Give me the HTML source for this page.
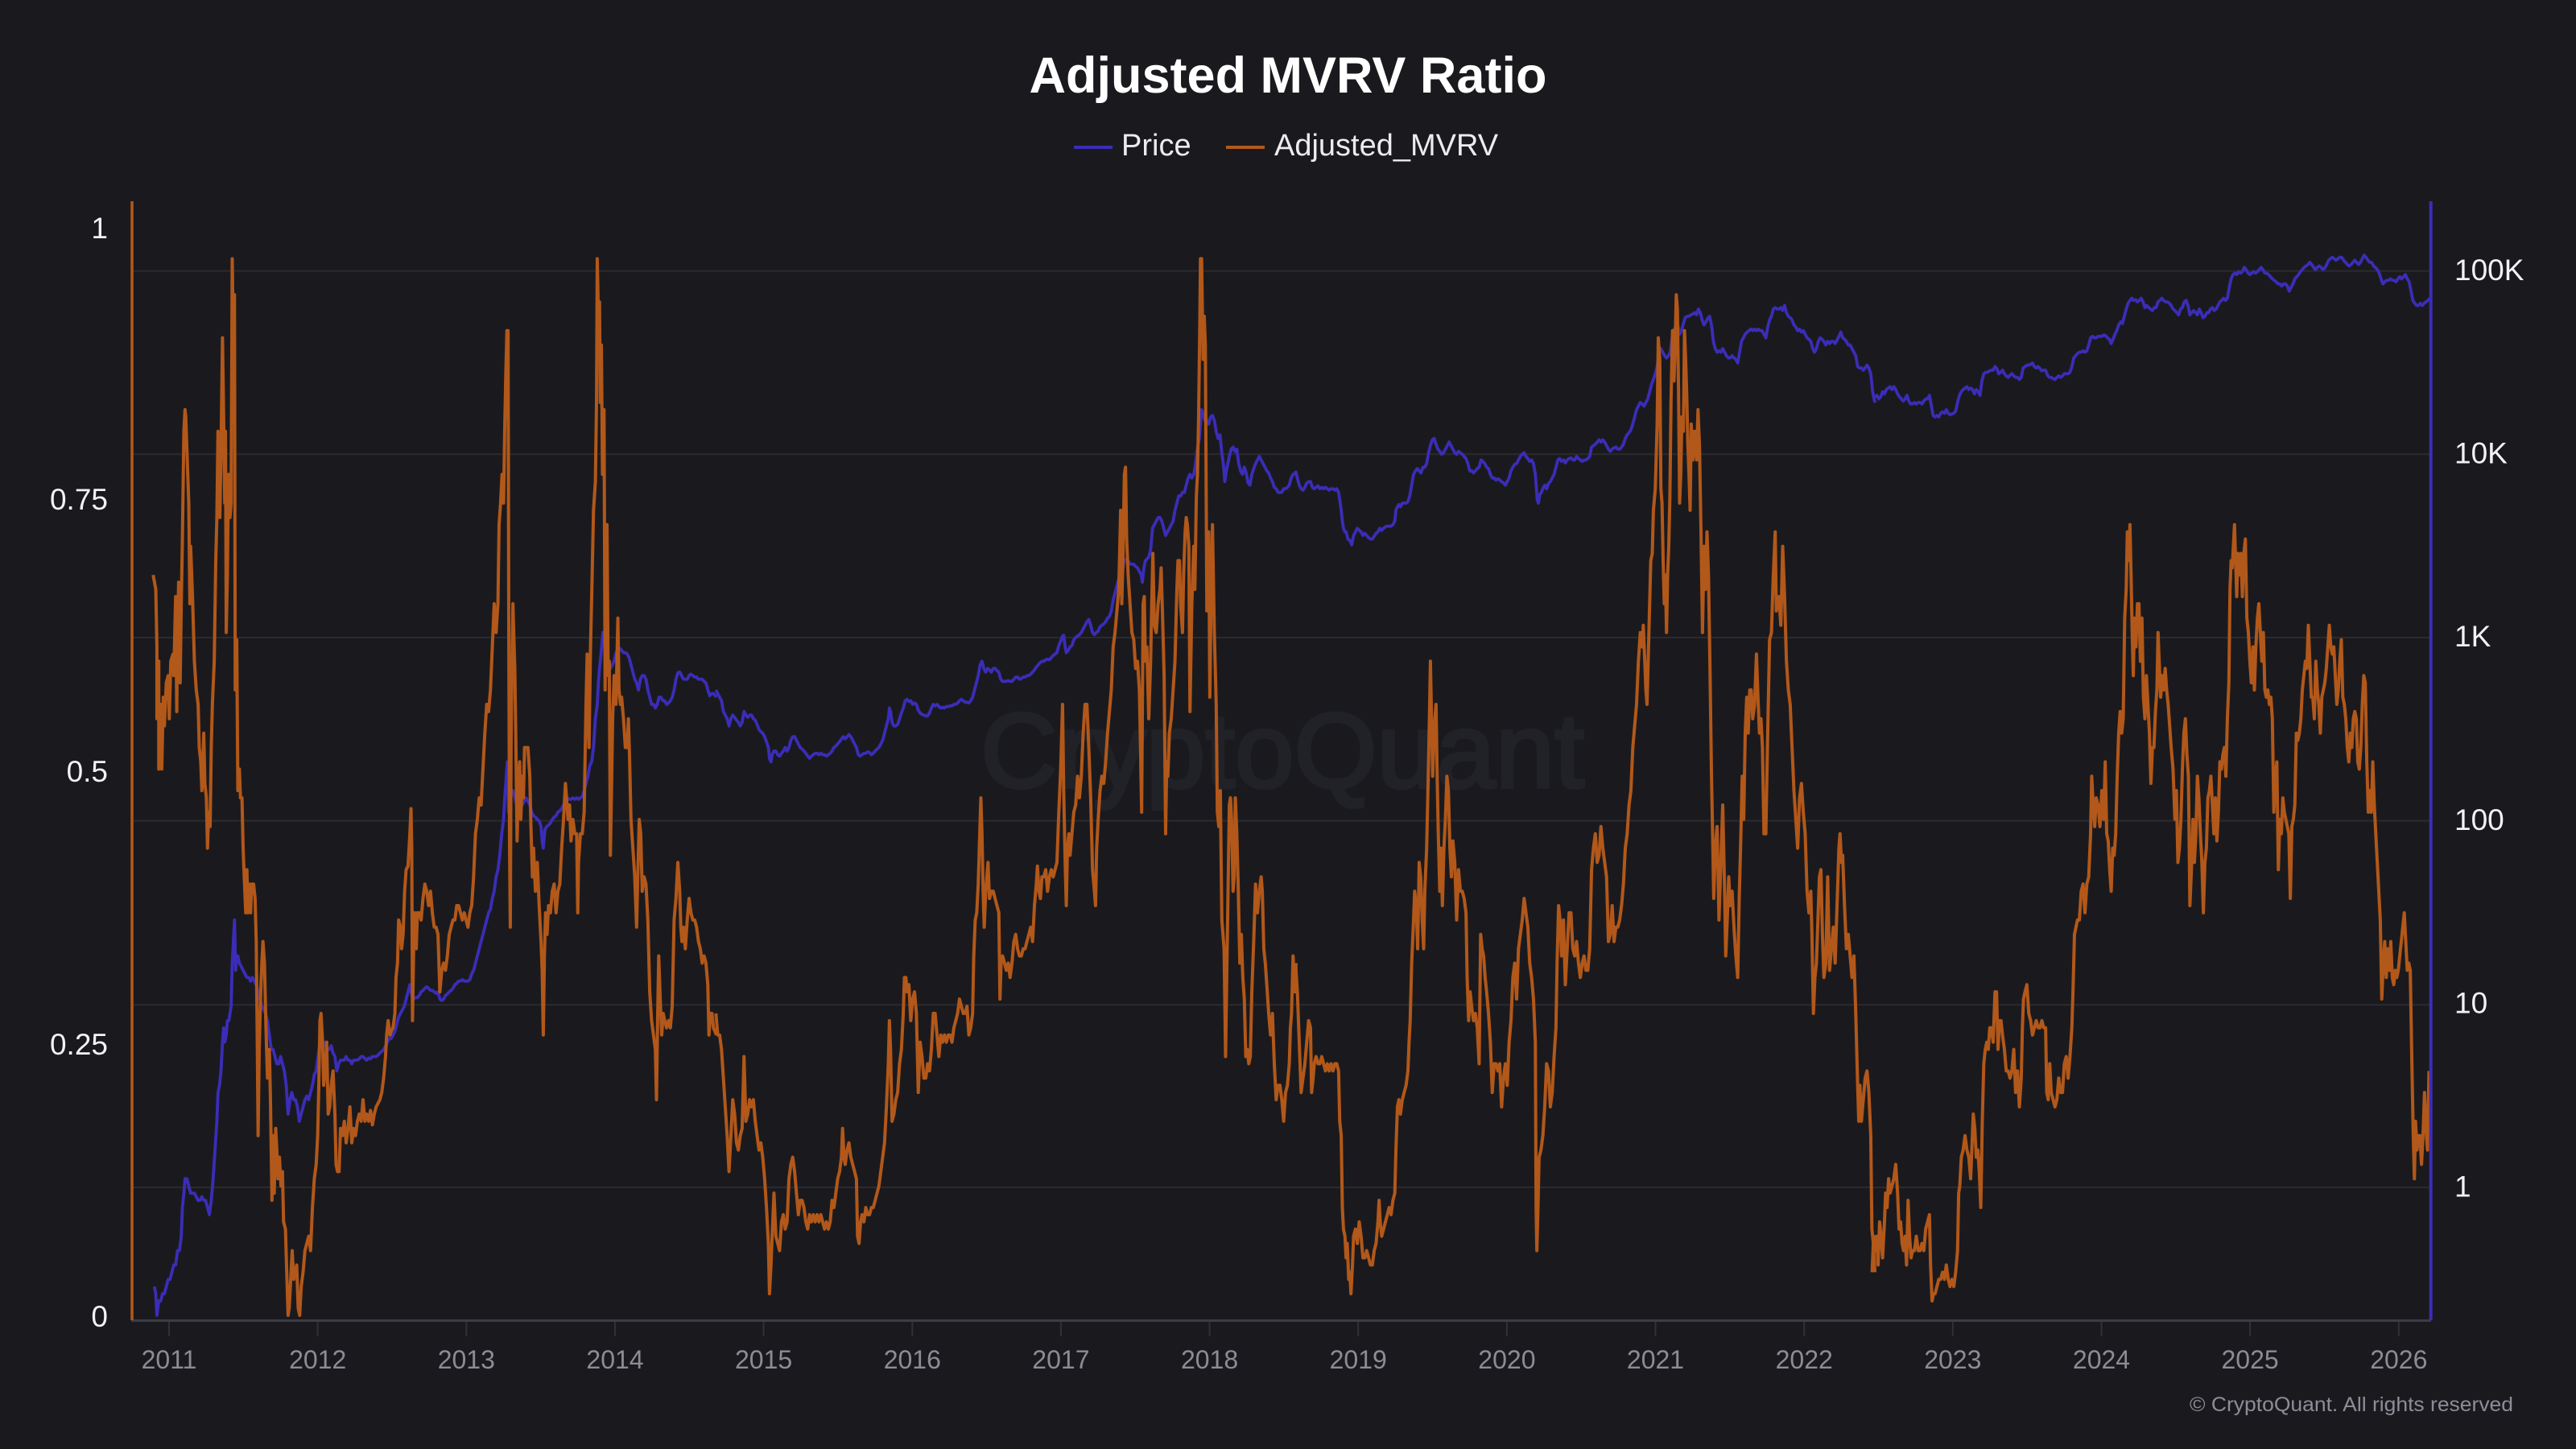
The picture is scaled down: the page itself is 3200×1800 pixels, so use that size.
<!DOCTYPE html>
<html><head><meta charset="utf-8"><style>
html,body{margin:0;padding:0;background:#1a1a1e;}
svg{display:block;}
text{font-family:"Liberation Sans",sans-serif;}
</style></head><body>
<svg width="3200" height="1800" viewBox="0 0 3200 1800" xmlns="http://www.w3.org/2000/svg">
<rect x="0" y="0" width="3200" height="1800" fill="#1a1a1e"/>
<text x="1600" y="115" font-size="63" font-weight="bold" fill="#ffffff" text-anchor="middle">Adjusted MVRV Ratio</text>
<line x1="1334" y1="183" x2="1382" y2="183" stroke="#3b2db8" stroke-width="4"/>
<text x="1393" y="193" font-size="38" fill="#ececf0">Price</text>
<line x1="1523" y1="183" x2="1571" y2="183" stroke="#b2581a" stroke-width="4"/>
<text x="1583" y="193" font-size="38" fill="#ececf0">Adjusted_MVRV</text>
<text x="1218" y="978" font-size="132" fill="#212228" stroke="#212228" stroke-width="4" textLength="750" lengthAdjust="spacingAndGlyphs">CryptoQuant</text>
<g stroke="#2a2a30" stroke-width="2">
<line x1="165" y1="336.6" x2="3018" y2="336.6"/>
<line x1="165" y1="564.3" x2="3018" y2="564.3"/>
<line x1="165" y1="792" x2="3018" y2="792"/>
<line x1="165" y1="1019.6" x2="3018" y2="1019.6"/>
<line x1="165" y1="1248.2" x2="3018" y2="1248.2"/>
<line x1="165" y1="1475" x2="3018" y2="1475"/>
</g>
<g stroke="#303036" stroke-width="2">
<line x1="210" y1="1642" x2="210" y2="1660"/><line x1="394.7" y1="1642" x2="394.7" y2="1660"/><line x1="579.3" y1="1642" x2="579.3" y2="1660"/><line x1="764" y1="1642" x2="764" y2="1660"/><line x1="948.6" y1="1642" x2="948.6" y2="1660"/><line x1="1133.3" y1="1642" x2="1133.3" y2="1660"/><line x1="1317.9" y1="1642" x2="1317.9" y2="1660"/><line x1="1502.6" y1="1642" x2="1502.6" y2="1660"/><line x1="1687.2" y1="1642" x2="1687.2" y2="1660"/><line x1="1871.9" y1="1642" x2="1871.9" y2="1660"/><line x1="2056.5" y1="1642" x2="2056.5" y2="1660"/><line x1="2241.2" y1="1642" x2="2241.2" y2="1660"/><line x1="2425.8" y1="1642" x2="2425.8" y2="1660"/><line x1="2610.5" y1="1642" x2="2610.5" y2="1660"/><line x1="2795.1" y1="1642" x2="2795.1" y2="1660"/><line x1="2979.8" y1="1642" x2="2979.8" y2="1660"/>
</g>
<g font-size="32" fill="#8c8c96" text-anchor="middle">
<text x="210" y="1700">2011</text><text x="394.7" y="1700">2012</text><text x="579.3" y="1700">2013</text><text x="764" y="1700">2014</text><text x="948.6" y="1700">2015</text><text x="1133.3" y="1700">2016</text><text x="1317.9" y="1700">2017</text><text x="1502.6" y="1700">2018</text><text x="1687.2" y="1700">2019</text><text x="1871.9" y="1700">2020</text><text x="2056.5" y="1700">2021</text><text x="2241.2" y="1700">2022</text><text x="2425.8" y="1700">2023</text><text x="2610.5" y="1700">2024</text><text x="2795.1" y="1700">2025</text><text x="2979.8" y="1700">2026</text>
</g>
<g font-size="37" fill="#f2f2f4" text-anchor="end">
<text x="134" y="296">1</text><text x="134" y="633">0.75</text><text x="134" y="971">0.5</text><text x="134" y="1310">0.25</text><text x="134" y="1648">0</text>
</g>
<g font-size="37" fill="#f2f2f4">
<text x="3049" y="348">100K</text><text x="3049" y="575.5">10K</text><text x="3049" y="803.2">1K</text><text x="3049" y="1031">100</text><text x="3049" y="1258.6">10</text><text x="3049" y="1486.3">1</text>
</g>
<text x="3122" y="1753" font-size="25" fill="#8d8d98" text-anchor="end" textLength="402" lengthAdjust="spacingAndGlyphs">© CryptoQuant. All rights reserved</text>

<g fill="none" stroke="#3b2db8" stroke-width="3.8" stroke-linejoin="round">
<g transform="translate(160,250) scale(0.46555,0.89286)">
<polyline vector-effect="non-scaling-stroke" points="68,1510 72,1520 75,1550 80,1530 85,1530 90,1520 95,1520 100,1510 105,1500 110,1500 115,1490 120,1480 125,1480 130,1460 135,1460 140,1440 143,1400 147,1380 150,1360 155,1360 160,1370 165,1380 170,1380 175,1380 180,1385 185,1390 190,1390 195,1385 200,1390 205,1390 210,1400 215,1410 220,1390 225,1360 230,1320 235,1280 238,1240 242,1230 246,1210 250,1170 253,1150 256,1170 260,1160 263,1140 267,1140 270,1130 273,1120 276,1060 279,1030 282,1000 285,1070 288,1050 291,1050 295,1060 300,1065 305,1070 310,1075 315,1080 320,1080 325,1085 330,1080 335,1085 340,1090 345,1100 350,1110 355,1120 360,1125 365,1130 370,1140 375,1160 380,1180 385,1180 390,1190 395,1200 400,1200 405,1190 410,1200 415,1210 420,1230 425,1270 430,1250 435,1240 440,1250 445,1250 450,1260 455,1280 460,1270 465,1260 470,1250 475,1245 480,1250 485,1240 490,1230 495,1215 500,1210 505,1190 510,1170 515,1165 520,1170 525,1175 530,1180 535,1180 540,1175 545,1185 550,1190 555,1210 560,1200 565,1195 570,1195 575,1195 580,1190 585,1195 590,1195 595,1200 600,1195 605,1195 610,1195 615,1193 620,1190 625,1190 630,1193 635,1195 640,1192 645,1193 650,1190 655,1190 660,1190 665,1188 670,1185 675,1183 680,1180 685,1175 690,1170 695,1165 700,1165 705,1160 710,1155 715,1145 720,1135 725,1130 730,1125 735,1120 740,1110 745,1100 750,1090 755,1105 760,1110 765,1108 770,1108 775,1105 780,1100 785,1098 790,1095 795,1093 800,1095 805,1098 810,1098 815,1100 820,1102 825,1100 830,1110 835,1112 840,1110 845,1105 850,1103 855,1100 860,1098 865,1095 870,1090 875,1088 880,1085 885,1085 890,1083 895,1085 900,1085 905,1085 910,1083 915,1075 920,1070 925,1060 930,1050 935,1040 940,1030 945,1020 950,1010 955,1000 960,990 965,985 970,970 975,960 980,940 985,930 990,910 995,880 1000,860 1003,830 1006,810 1010,780 1013,850 1017,830 1020,820 1025,820 1030,830 1035,840 1040,850 1045,845 1050,840 1055,835 1060,830 1065,835 1070,840 1075,850 1080,855 1085,857 1090,860 1095,862 1100,870 1103,890 1106,900 1110,875 1115,870 1120,868 1125,865 1130,860 1135,857 1140,855 1145,850 1150,848 1155,845 1160,840 1165,835 1170,830 1175,832 1180,832 1185,830 1190,832 1195,830 1200,832 1205,830 1210,828 1215,820 1220,810 1225,800 1230,785 1235,780 1240,760 1245,720 1250,700 1253,670 1256,650 1260,630 1265,600 1268,610 1272,620 1276,635 1280,640 1285,650 1290,645 1295,640 1300,628 1305,625 1310,622 1315,625 1320,628 1325,628 1330,630 1335,635 1340,645 1345,655 1350,665 1355,670 1360,680 1365,665 1370,660 1375,660 1380,665 1385,680 1390,690 1395,700 1400,700 1405,705 1410,700 1415,690 1420,690 1425,695 1430,695 1435,700 1440,698 1445,695 1450,690 1455,680 1460,665 1465,656 1470,655 1475,660 1480,665 1485,665 1490,665 1495,660 1500,658 1505,660 1510,662 1515,662 1520,665 1525,665 1530,665 1535,668 1540,670 1545,680 1550,688 1555,685 1560,685 1568,690"/>
</g>
<g transform="translate(880,250) scale(0.46555,0.89286)">
<polyline vector-effect="non-scaling-stroke" points="20,680 25,685 30,690 35,695 40,710 45,715 50,720 55,730 60,720 65,715 70,718 75,722 80,725 85,730 90,725 95,710 100,715 105,718 110,715 115,715 120,720 125,722 130,728 135,735 140,738 145,740 150,745 155,752 160,760 163,775 167,780 170,770 175,765 180,765 185,770 190,772 195,768 200,765 205,760 210,765 215,760 220,750 225,745 230,745 235,750 240,755 245,760 250,762 255,765 260,768 265,772 270,775 275,772 280,770 285,768 290,768 295,770 300,768 305,770 310,770 315,772 320,770 325,768 330,765 335,760 340,758 345,755 350,752 355,748 360,745 365,748 370,745 375,742 380,745 385,750 390,755 395,760 400,770 405,772 410,770 415,768 420,768 425,766 430,767 435,770 440,768 445,765 450,762 455,760 460,755 465,750 470,740 475,730 480,720 483,705 486,710 490,725 495,730 500,730 505,728 510,720 515,712 520,705 525,695 530,693 535,696 540,695 545,700 550,698 555,700 560,708 565,712 570,714 575,715 580,716 585,716 590,712 595,705 600,700 605,702 610,700 615,703 620,705 625,704 630,705 635,703 640,703 645,702 650,702 655,700 660,700 665,698 670,695 675,693 680,695 685,697 690,697 695,698 700,695 705,690 710,680 715,670 720,660 725,645 730,640 735,650 740,655 745,650 750,652 755,655 760,650 765,650 770,653 775,655 780,665 785,668 790,668 795,668 800,667 805,668 810,668 815,665 820,662 825,662 830,665 835,664 840,662 845,662 850,660 855,660 860,658 865,655 870,652 875,648 880,645 885,642 890,640 895,640 900,638 905,637 910,638 915,635 920,632 925,630 930,628 935,618 940,612 945,605 948,604 952,620 955,628 960,625 965,620 970,618 975,610 980,607 985,605 990,603 995,600 1000,595 1005,590 1010,585 1015,582 1020,590 1025,600 1030,603 1035,600 1040,598 1045,592 1050,590 1055,588 1060,585 1065,580 1070,578 1075,570 1080,555 1085,545 1090,535 1095,525 1100,520 1105,515 1110,500 1115,498 1120,500 1125,505 1130,505 1135,505 1140,508 1145,510 1150,515 1155,520 1158,530 1162,510 1166,500 1170,498 1175,495 1180,485 1185,455 1190,450 1195,445 1200,440 1205,440 1210,445 1215,455 1220,465 1225,460 1230,455 1235,450 1240,445 1245,430 1250,420 1255,410 1260,410 1265,405 1270,405 1275,395 1280,385 1285,380 1290,385 1295,380 1300,365 1303,350 1306,340 1310,330 1313,310 1316,290 1320,295 1325,305 1330,305 1335,310 1340,300 1345,298 1350,305 1355,320 1360,330 1365,325 1370,350 1375,370 1378,390 1382,375 1386,365 1390,355 1395,345 1400,342 1405,348 1410,345 1415,365 1420,375 1425,380 1430,370 1435,378 1440,392 1445,395 1450,380 1455,372 1460,365 1465,360 1470,355 1475,360 1480,365 1485,370 1490,375 1495,378 1500,385 1505,390 1510,398 1515,400 1520,405 1525,405 1530,405 1535,400 1540,400 1545,398 1550,395 1555,385 1560,380 1568,378"/>
</g>
<g transform="translate(1600,250) scale(0.46555,0.89286)">
<polyline vector-effect="non-scaling-stroke" points="20,375 25,385 30,395 35,400 40,402 45,398 50,392 55,390 60,390 65,398 70,400 75,398 80,396 85,400 90,398 95,400 100,398 105,400 110,402 115,400 120,400 125,402 130,400 135,405 138,415 142,430 145,445 148,455 152,460 155,460 160,470 165,472 170,478 175,465 180,460 185,455 190,458 195,460 200,465 205,462 210,465 215,468 220,470 225,470 230,466 235,462 240,460 245,455 250,458 255,455 260,453 265,452 270,452 275,452 280,450 285,445 288,430 292,425 296,422 300,425 305,420 310,420 315,420 320,418 325,410 330,395 335,380 340,375 345,372 350,375 355,378 360,370 365,370 370,365 375,350 380,340 385,332 390,330 395,338 400,345 405,348 410,352 415,350 420,345 425,340 430,335 435,340 440,345 445,350 450,352 455,348 460,350 465,352 470,355 475,358 480,365 485,375 490,375 495,378 500,375 505,372 510,370 515,360 520,362 525,365 530,370 535,372 540,380 545,385 550,385 555,388 560,386 565,388 570,390 575,392 580,395 585,390 590,385 595,375 600,370 605,366 610,365 615,360 620,355 625,352 630,350 635,355 640,358 645,362 650,360 655,365 660,380 665,415 668,420 672,408 676,405 680,400 685,395 690,400 695,393 700,390 705,385 710,380 715,370 720,360 725,358 730,362 735,360 740,364 745,360 750,358 755,357 760,360 765,360 770,355 775,358 780,360 785,362 790,360 795,360 800,358 805,355 810,342 815,340 820,338 825,335 830,332 835,335 840,332 845,335 850,340 855,345 860,348 865,345 870,343 875,342 880,345 885,345 890,342 895,338 900,330 905,325 910,322 915,318 920,310 925,300 930,290 935,285 940,280 945,282 950,285 955,280 960,275 965,265 970,255 975,248 980,240 985,230 990,210 995,205 1000,210 1005,215 1010,218 1015,215 1020,210 1025,190 1030,178 1035,175 1040,172 1045,185 1050,180 1055,170 1060,162 1065,160 1070,160 1075,158 1080,157 1085,155 1090,158 1095,150 1100,155 1105,165 1110,172 1115,168 1120,163 1125,160 1130,172 1135,195 1140,205 1145,210 1150,208 1155,210 1160,205 1165,210 1170,215 1175,218 1180,218 1185,215 1190,218 1195,220 1200,225 1205,210 1210,195 1215,190 1220,185 1225,182 1230,180 1235,178 1240,180 1245,178 1250,180 1255,178 1260,180 1265,180 1270,185 1275,190 1280,175 1285,165 1290,160 1295,150 1300,148 1305,150 1310,150 1315,148 1320,152 1325,145 1330,155 1335,160 1340,162 1345,165 1350,172 1355,175 1360,180 1365,178 1370,182 1375,180 1380,185 1385,190 1390,192 1395,195 1400,205 1405,210 1410,205 1415,195 1420,190 1425,192 1430,195 1435,200 1440,195 1445,198 1450,195 1455,195 1460,198 1465,193 1470,188 1475,182 1480,190 1485,192 1490,195 1495,200 1500,200 1505,205 1510,210 1515,215 1520,230 1525,232 1530,232 1535,235 1540,232 1545,228 1550,232 1555,240 1560,265 1565,278 1568,280"/>
</g>
<g transform="translate(2320,250) scale(0.46555,0.89286)">
<polyline vector-effect="non-scaling-stroke" points="15,275 20,272 25,270 30,275 35,272 40,265 45,268 50,262 55,260 60,258 65,262 70,258 75,262 80,268 85,272 90,275 95,278 100,275 105,270 110,278 115,282 120,282 125,280 130,282 135,280 140,280 145,282 150,278 155,275 160,275 165,270 168,278 172,290 175,298 180,300 185,298 190,300 195,295 200,293 205,295 210,290 215,295 220,297 225,296 230,295 235,292 240,280 245,270 250,265 255,262 260,260 265,258 270,262 275,260 280,262 285,268 290,262 295,265 300,270 305,250 310,240 315,238 320,238 325,236 330,235 335,235 340,230 345,233 350,240 355,238 360,235 365,240 370,243 375,245 380,242 385,240 390,243 395,245 400,245 405,248 410,245 415,232 420,230 425,228 430,228 435,227 440,225 445,230 450,232 455,230 460,233 465,236 470,235 475,235 480,242 485,245 490,245 495,247 500,248 505,245 510,243 515,245 520,243 525,240 530,240 535,240 540,238 545,230 550,218 555,215 560,212 565,210 570,210 575,208 580,210 585,208 590,200 595,190 600,188 605,190 610,190 615,188 620,188 625,188 630,186 635,187 640,190 645,192 650,198 655,192 660,185 665,180 670,172 675,168 680,170 685,160 690,150 695,142 700,138 705,135 710,138 715,137 720,140 725,138 730,135 735,140 740,148 745,145 750,148 755,150 760,152 765,148 770,148 775,140 780,138 785,135 790,138 795,140 800,140 805,142 810,145 815,150 820,152 825,155 830,158 835,150 840,148 845,140 850,138 855,145 860,158 865,155 870,152 875,155 880,158 885,150 890,155 895,162 900,160 905,155 910,155 915,150 920,148 925,152 930,150 935,145 940,140 945,138 950,135 955,138 960,135 965,120 970,108 975,102 980,100 985,102 990,98 995,100 1000,98 1005,92 1010,95 1015,100 1020,102 1025,100 1030,98 1035,100 1040,98 1045,95 1050,92 1055,95 1060,100 1065,100 1070,102 1075,105 1080,108 1085,110 1090,112 1095,115 1100,115 1105,118 1110,115 1115,115 1120,118 1125,125 1130,120 1135,115 1140,108 1145,105 1150,102 1155,98 1160,95 1165,92 1170,90 1175,88 1180,85 1185,88 1190,92 1195,95 1200,92 1205,90 1210,92 1215,95 1220,93 1225,88 1230,82 1235,80 1240,78 1245,80 1250,82 1255,80 1260,78 1265,78 1270,82 1275,85 1280,88 1285,90 1290,88 1295,85 1300,82 1305,85 1310,88 1315,85 1320,80 1325,75 1330,78 1335,82 1340,85 1345,85 1350,90 1355,92 1360,95 1365,100 1370,108 1375,115 1380,112 1385,110 1390,110 1395,108 1400,110 1405,110 1410,112 1415,108 1420,105 1425,108 1430,105 1435,102 1440,108 1445,112 1450,125 1455,138 1460,142 1465,145 1470,145 1475,142 1480,145 1485,142 1490,140 1495,138 1500,135"/>
</g>
</g>

<g fill="none" stroke="#b2581a" stroke-width="4" stroke-linejoin="round">
<g transform="translate(160,250) scale(0.46555,0.89286)">
<polyline vector-effect="non-scaling-stroke" points="65,520 72,540 75,620 75,720 80,640 80,790 85,700 88,790 92,690 95,730 100,670 105,660 108,720 112,640 118,630 120,660 125,550 128,710 130,600 133,530 137,670 140,560 143,470 147,320 150,290 152,300 156,360 160,420 163,560 165,480 170,550 175,640 180,680 185,700 188,760 192,780 195,820 200,740 203,810 207,830 210,900 213,850 217,870 220,760 223,700 228,640 232,500 235,440 238,320 240,380 243,440 246,350 250,190 253,300 256,420 258,320 260,600 263,520 266,380 270,440 273,420 276,80 279,200 282,130 284,680 288,610 291,820 295,790 298,830 302,830 305,900 308,940 312,990 315,930 318,990 322,950 325,990 328,950 333,950 337,970 340,1030 343,1180 345,1300 348,1180 352,1100 355,1060 358,1030 362,1060 366,1150 370,1220 375,1180 378,1250 382,1390 385,1300 388,1380 392,1290 395,1320 398,1360 402,1330 406,1370 410,1350 413,1420 418,1430 422,1500 425,1550 428,1540 432,1500 436,1460 440,1500 444,1490 448,1480 452,1540 456,1550 460,1510 465,1490 470,1460 475,1450 480,1440 485,1460 490,1400 495,1360 500,1340 504,1300 507,1230 510,1140 513,1130 517,1170 520,1230 525,1200 528,1170 532,1270 536,1260 540,1230 545,1210 550,1270 553,1340 557,1350 561,1350 565,1290 570,1300 575,1280 580,1310 585,1290 590,1260 595,1310 600,1290 605,1300 610,1280 615,1270 620,1280 625,1250 630,1280 635,1270 640,1280 645,1265 650,1285 655,1270 660,1260 665,1255 670,1250 675,1240 680,1220 685,1190 688,1160 692,1140 697,1160 700,1155 705,1150 710,1130 713,1080 717,1060 720,1000 725,1010 728,1040 732,1020 736,960 740,930 745,925 750,880 753,845 755,900 757,1140 760,1040 763,990 767,1040 770,990 775,990 780,1000 785,970 790,950 795,960 800,980 805,960 810,990 815,1010 820,1010 825,1020 830,1100 835,1070 840,1060 845,1070 850,1050 855,1020 860,1010 865,1000 870,1000 875,980 880,980 885,990 890,1000 895,990 900,1000 905,1010 910,990 915,980 920,940 925,880 930,860 935,830 940,840 945,790 950,740 955,700 960,710 965,680 970,620 975,560 980,600 985,560 988,450 992,420 996,380 1000,420 1003,320 1006,240 1009,180 1012,180 1014,620 1016,900 1018,1010 1020,760 1023,620 1025,560 1027,600 1030,650 1033,760 1036,890 1040,800 1043,780 1046,860 1050,800 1053,830 1056,760 1060,760 1065,760 1070,800 1073,870 1077,940 1080,900 1085,960 1090,920 1095,980 1100,1030 1103,1070 1106,1160 1109,1050 1112,990 1116,1020 1120,980 1125,990 1130,960 1135,950 1140,990 1145,960 1150,950 1155,900 1160,860 1165,810 1168,830 1172,860 1176,840 1180,890 1185,860 1190,880 1195,880 1198,990 1200,920 1205,880 1210,880 1215,850 1218,760 1220,700 1223,630 1225,700 1228,760 1232,620 1236,530 1240,430 1245,390 1248,280 1250,80 1253,160 1256,140 1258,280 1261,200 1264,380 1268,290 1271,680 1273,580 1276,450 1279,660 1282,640 1285,910 1288,820 1291,720 1295,660 1300,700 1305,580 1308,680 1312,700 1315,690 1320,720 1325,760 1330,760 1333,720 1336,770 1340,860 1345,900 1350,940 1355,1010 1358,940 1362,860 1366,880 1370,960 1375,940 1380,950 1385,1000 1390,1100 1395,1140 1400,1160 1405,1180 1408,1250 1411,1140 1414,1050 1418,1110 1422,1160 1426,1130 1430,1140 1435,1150 1440,1140 1445,1150 1450,1120 1455,1000 1460,970 1465,920 1470,960 1473,1010 1476,1030 1480,1010 1485,1040 1490,1000 1495,970 1500,990 1505,1000 1510,1000 1515,1010 1520,1030 1525,1040 1530,1060 1535,1050 1540,1060 1545,1090 1548,1160 1552,1130 1556,1130 1560,1150 1568,1160"/>
</g>
<g transform="translate(880,250) scale(0.46555,0.89286)">
<polyline vector-effect="non-scaling-stroke" points="20,1130 25,1160 30,1160 35,1180 40,1220 45,1260 50,1300 55,1350 60,1300 65,1250 70,1270 75,1310 80,1320 85,1300 90,1290 95,1190 100,1280 105,1270 110,1250 115,1260 120,1250 125,1280 130,1300 135,1320 140,1310 145,1330 150,1360 155,1400 160,1450 163,1520 167,1480 170,1440 175,1380 180,1440 185,1450 190,1460 195,1420 200,1410 205,1430 210,1420 215,1360 220,1340 225,1330 230,1350 235,1380 240,1410 245,1390 250,1390 255,1400 260,1420 265,1430 270,1410 275,1420 280,1410 285,1420 290,1410 295,1420 300,1410 305,1420 310,1430 315,1420 320,1430 325,1420 330,1390 335,1400 340,1380 345,1360 350,1350 355,1330 358,1290 362,1330 365,1340 370,1320 375,1310 380,1330 385,1340 390,1350 395,1360 398,1440 402,1450 406,1420 410,1410 415,1420 420,1400 425,1410 430,1410 435,1400 440,1400 445,1390 450,1380 455,1370 460,1350 465,1330 470,1310 475,1260 480,1200 483,1140 486,1180 490,1280 495,1270 500,1250 505,1240 510,1200 515,1180 520,1130 523,1080 527,1080 530,1100 535,1090 540,1140 545,1110 550,1100 555,1130 560,1240 565,1170 570,1190 575,1220 580,1220 585,1200 590,1210 595,1180 600,1130 605,1130 610,1160 615,1190 620,1160 625,1170 630,1160 635,1170 640,1160 645,1160 650,1170 655,1150 660,1140 665,1130 670,1110 675,1120 680,1130 685,1130 690,1120 695,1160 700,1150 705,1130 708,1050 712,1000 716,990 720,950 724,880 727,830 730,880 733,960 736,1010 740,960 743,940 746,920 750,970 755,960 760,960 765,970 770,980 775,990 778,1110 781,1060 785,1050 790,1060 795,1070 800,1060 805,1080 810,1060 815,1030 820,1020 825,1040 830,1050 835,1050 840,1040 845,1040 850,1030 855,1020 860,1010 865,1030 870,980 875,950 878,925 882,960 886,970 890,940 895,940 900,930 905,960 910,940 915,930 920,940 925,930 930,920 935,850 940,790 945,700 948,820 952,920 955,980 958,900 962,880 965,910 970,880 975,850 980,840 985,800 990,830 995,800 1000,740 1005,700 1010,700 1015,760 1020,830 1025,930 1030,960 1033,980 1036,900 1040,860 1045,820 1050,800 1055,810 1060,780 1065,740 1070,710 1075,680 1080,620 1085,600 1090,570 1095,540 1100,430 1103,560 1106,500 1110,380 1113,370 1116,470 1120,520 1125,560 1130,600 1135,610 1140,650 1145,640 1150,680 1153,760 1156,850 1160,560 1163,550 1166,640 1170,620 1175,720 1180,640 1183,560 1186,490 1190,590 1195,600 1200,560 1205,540 1208,510 1212,580 1216,660 1220,880 1223,780 1226,800 1230,740 1235,720 1240,680 1245,640 1250,540 1253,500 1257,500 1260,560 1265,600 1268,520 1272,460 1275,440 1278,450 1282,480 1285,710 1290,560 1295,480 1298,540 1302,410 1305,380 1308,300 1311,180 1313,80 1316,80 1320,220 1323,160 1326,200 1330,570 1335,460 1338,690 1341,560 1345,450 1350,600 1355,700 1358,850 1362,870 1366,820 1370,1000 1373,1020 1376,1040 1380,1190 1383,1080 1386,980 1390,840 1393,830 1396,860 1400,960 1403,940 1406,830 1410,880 1414,960 1418,1060 1422,1020 1426,1080 1430,1110 1434,1190 1438,1180 1442,1200 1446,1190 1450,1100 1455,1030 1460,950 1465,990 1470,960 1475,940 1478,960 1482,1040 1486,1060 1490,1090 1495,1130 1500,1160 1505,1130 1510,1200 1515,1250 1520,1230 1525,1230 1530,1250 1535,1280 1540,1240 1545,1230 1550,1200 1553,1150 1556,1130 1560,1050 1565,1100 1568,1060"/>
</g>
<g transform="translate(1600,250) scale(0.46555,0.89286)">
<polyline vector-effect="non-scaling-stroke" points="20,1060 25,1100 30,1170 35,1240 40,1220 45,1200 50,1170 55,1140 60,1150 63,1240 67,1220 70,1200 75,1190 80,1200 85,1200 90,1190 95,1200 100,1210 105,1200 110,1210 115,1200 120,1210 125,1200 130,1200 135,1210 138,1280 142,1300 145,1400 148,1430 152,1440 155,1470 158,1450 162,1500 165,1490 168,1520 172,1480 175,1440 180,1430 185,1450 190,1420 195,1440 200,1470 205,1470 210,1460 215,1470 220,1480 225,1480 230,1460 235,1450 240,1420 243,1390 246,1420 250,1440 255,1430 260,1420 265,1410 270,1400 275,1410 280,1390 285,1380 288,1320 292,1260 296,1250 300,1270 305,1250 310,1240 315,1230 320,1210 323,1170 326,1140 330,1060 335,1000 338,960 342,980 346,1040 350,920 354,940 358,1000 362,1040 365,960 370,900 375,780 378,700 380,640 383,720 386,800 389,750 392,720 395,700 398,800 401,880 405,960 408,900 412,980 416,900 420,860 424,800 428,820 432,900 436,940 440,890 445,920 450,1000 455,930 460,960 465,960 470,970 475,990 478,1080 482,1140 486,1100 490,1120 495,1140 500,1130 505,1150 510,1200 514,1020 518,1040 522,1050 526,1080 530,1100 535,1130 540,1170 545,1240 550,1200 555,1200 560,1210 565,1200 570,1260 575,1220 580,1200 585,1230 590,1170 595,1140 600,1080 605,1060 610,1110 615,1040 620,1020 625,1000 630,970 635,990 640,1010 645,1060 650,1080 655,1110 660,1170 662,1400 664,1460 667,1400 670,1330 675,1320 680,1300 685,1260 690,1200 695,1210 700,1260 705,1240 710,1190 715,1150 718,1060 722,980 726,1000 730,1050 735,1000 740,1090 745,1040 750,990 755,990 760,1040 765,1050 770,1030 775,1060 780,1080 785,1060 790,1050 795,1070 800,1070 805,1040 810,930 815,900 820,880 825,920 830,910 835,870 840,900 845,920 850,940 855,1030 860,1020 865,980 870,1030 875,1010 880,1010 885,1000 890,980 895,950 900,900 905,880 910,840 915,820 920,760 925,730 930,700 935,640 940,600 945,620 948,590 952,640 955,680 958,700 962,620 965,560 968,500 972,490 975,430 980,400 985,310 988,190 992,220 995,400 998,420 1001,500 1004,560 1007,520 1010,600 1013,520 1016,480 1019,410 1022,280 1026,180 1030,250 1033,200 1036,130 1039,150 1042,260 1045,420 1048,380 1051,300 1055,320 1058,180 1061,220 1064,270 1067,340 1070,380 1073,430 1076,310 1080,360 1085,320 1090,360 1094,290 1098,340 1102,460 1106,600 1110,480 1114,540 1118,460 1122,520 1126,650 1130,800 1133,880 1136,970 1140,900 1145,870 1150,1000 1155,920 1160,840 1165,960 1168,1050 1172,1000 1176,940 1180,980 1185,960 1190,1010 1195,1050 1200,1080 1204,970 1208,890 1212,800 1216,860 1220,740 1224,690 1228,740 1232,680 1236,680 1240,720 1245,700 1250,630 1254,690 1258,740 1262,720 1266,760 1270,880 1275,880 1280,740 1285,610 1290,600 1295,520 1300,460 1303,570 1306,560 1310,550 1315,590 1320,480 1325,550 1330,640 1335,680 1340,700 1345,760 1350,820 1355,860 1360,900 1365,830 1370,810 1375,850 1380,880 1385,960 1390,990 1395,960 1398,1020 1402,1130 1406,1080 1410,1060 1414,1000 1418,940 1422,930 1426,1020 1430,1080 1435,1060 1440,940 1445,1070 1450,1040 1455,1010 1460,1060 1465,980 1470,900 1473,880 1477,920 1480,910 1485,980 1490,1040 1495,1020 1500,1050 1505,1080 1510,1050 1515,1130 1520,1230 1523,1280 1526,1230 1530,1280 1535,1250 1540,1220 1545,1210 1550,1240 1555,1300 1558,1430 1562,1450 1566,1490"/>
</g>
<g transform="translate(2320,250) scale(0.46555,0.89286)">
<polyline vector-effect="non-scaling-stroke" points="12,1490 16,1440 20,1460 24,1440 28,1480 32,1420 36,1440 40,1470 45,1420 48,1380 52,1400 56,1360 60,1380 65,1370 70,1360 75,1340 80,1380 84,1430 88,1420 92,1450 96,1460 100,1440 104,1480 108,1390 112,1440 116,1470 120,1460 125,1460 130,1440 135,1460 140,1460 145,1450 150,1460 155,1430 160,1420 165,1410 168,1480 172,1530 176,1520 180,1520 185,1510 190,1500 195,1500 200,1490 205,1500 210,1480 215,1500 220,1510 225,1500 230,1510 235,1490 240,1460 243,1380 246,1370 250,1330 255,1320 260,1300 265,1320 270,1330 275,1360 278,1320 282,1270 286,1290 290,1330 294,1320 298,1350 302,1400 306,1280 310,1200 314,1180 318,1170 322,1180 326,1150 330,1150 335,1170 340,1100 344,1100 348,1180 352,1140 356,1140 360,1160 365,1180 370,1210 375,1210 380,1220 385,1210 390,1180 395,1240 400,1210 405,1260 410,1220 413,1150 416,1110 420,1100 425,1090 430,1130 435,1140 440,1160 445,1150 450,1140 455,1150 460,1150 465,1140 470,1150 475,1150 478,1240 482,1250 486,1200 490,1240 495,1250 500,1260 505,1250 510,1220 515,1240 520,1240 525,1200 530,1190 535,1220 540,1190 545,1150 548,1100 552,1020 556,1010 560,1000 565,1000 570,960 575,950 580,990 585,950 590,940 595,880 598,800 602,840 606,870 610,830 615,840 620,870 625,820 630,860 634,780 638,880 642,890 646,930 650,960 654,900 658,910 662,880 666,800 670,740 674,710 678,740 682,720 686,580 690,540 693,460 697,500 700,450 703,520 706,600 709,660 712,580 716,620 720,560 724,560 728,640 732,580 736,690 740,720 744,660 748,700 752,740 756,810 760,760 764,760 768,710 772,680 775,600 778,640 782,690 786,660 790,680 794,650 798,680 802,700 806,730 810,760 815,790 820,860 824,820 828,920 832,900 836,860 840,790 844,740 848,720 852,770 856,800 860,980 864,930 868,860 872,920 876,880 880,800 884,830 888,880 892,920 896,990 900,920 904,900 908,830 912,820 916,800 920,840 924,880 928,830 932,890 936,850 940,780 944,790 948,770 952,760 956,800 960,720 964,670 967,540 970,500 973,510 976,480 979,450 982,500 985,550 988,490 992,520 996,490 1000,550 1004,490 1008,470 1012,580 1016,600 1020,640 1024,670 1028,620 1032,680 1036,620 1040,580 1044,560 1048,600 1052,640 1056,600 1060,680 1064,690 1068,680 1072,700 1076,690 1080,720 1084,850 1088,800 1092,780 1096,930 1100,860 1104,880 1108,830 1112,850 1116,860 1120,870 1124,880 1128,970 1132,870 1136,860 1140,840 1144,740 1148,750 1152,740 1156,720 1160,680 1164,660 1168,640 1172,650 1176,590 1180,640 1184,690 1188,690 1192,720 1196,640 1200,680 1204,700 1208,740 1212,690 1216,680 1220,670 1224,650 1228,620 1232,590 1236,620 1240,630 1244,620 1248,660 1252,700 1256,680 1260,640 1264,610 1268,690 1272,700 1276,720 1280,760 1284,780 1288,740 1292,760 1296,720 1300,710 1304,720 1308,780 1312,790 1316,760 1320,700 1324,660 1328,670 1332,780 1336,850 1340,820 1344,850 1348,780 1352,840 1356,880 1360,920 1364,960 1368,1000 1372,1110 1376,1060 1380,1030 1384,1080 1388,1040 1392,1070 1396,1030 1400,1080 1404,1090 1408,1070 1412,1080 1416,1070 1420,1050 1424,1030 1428,1010 1432,990 1436,1030 1440,1070 1444,1060 1448,1070 1452,1190 1456,1300 1459,1360 1462,1280 1466,1320 1470,1300 1474,1300 1478,1340 1482,1300 1486,1240 1490,1290 1494,1320 1498,1210"/>
</g>
</g>

<line x1="163" y1="1640.5" x2="3020" y2="1640.5" stroke="#3c3c46" stroke-width="3"/>
<line x1="164" y1="250" x2="164" y2="1640" stroke="#b2581a" stroke-width="3.5"/>
<line x1="3019.7" y1="250" x2="3019.7" y2="1640" stroke="#3b2db8" stroke-width="4"/>
</svg>
</body></html>
